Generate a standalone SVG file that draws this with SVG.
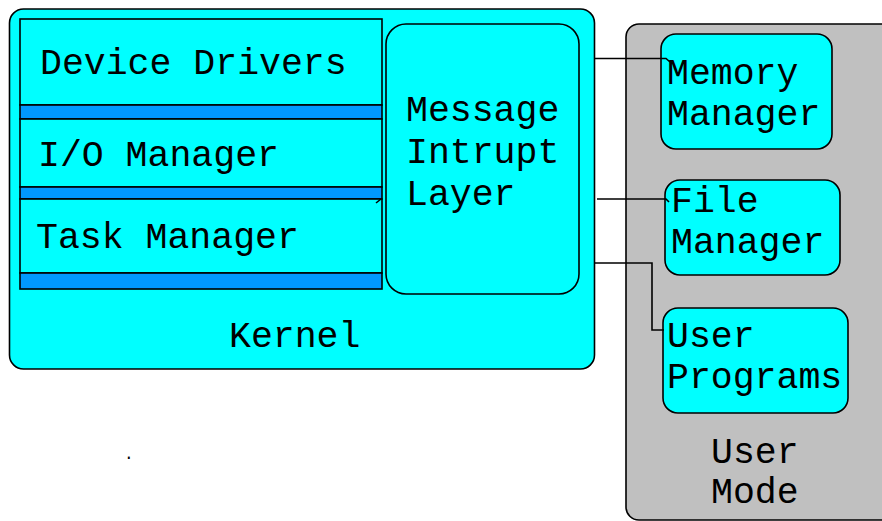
<svg xmlns="http://www.w3.org/2000/svg" width="882" height="521" viewBox="0 0 882 521">
<style>
text{font-family:"Courier New","Liberation Mono",monospace;font-size:36.5px;fill:#000}
.cy{fill:#00ffff;stroke:#000;stroke-width:1.6}
.bar{fill:#0099ff;stroke:#000;stroke-width:1.6}
.gr{fill:#c0c0c0;stroke:#000;stroke-width:1.6}
.con{fill:none;stroke:#000;stroke-width:1.6}
</style>
<rect width="882" height="521" fill="#fff"/>
<g id="kernel">
<rect class="cy" x="9.5" y="9" width="585" height="360" rx="14"/>
<text x="229" y="347">Kernel</text>
</g>
<g id="device-drivers">
<rect class="cy" x="20" y="19" width="362" height="86"/>
<text x="40" y="74">Device Drivers</text>
</g>
<rect id="bar1" class="bar" x="20" y="105" width="362" height="14"/>
<g id="io-manager">
<rect class="cy" x="20" y="119" width="362" height="68"/>
<text x="38" y="166">I/O Manager</text>
</g>
<rect id="bar2" class="bar" x="20" y="187" width="362" height="12"/>
<g id="task-manager">
<rect class="cy" x="20" y="199" width="362" height="74"/>
<text x="36" y="248">Task Manager</text>
</g>
<rect id="bar3" class="bar" x="20" y="273" width="362" height="16"/>
<g id="message-layer">
<rect class="cy" x="386" y="24" width="193" height="270" rx="20"/>
<text x="406" y="121">Message</text>
<text x="406" y="163">Intrupt</text>
<text x="406" y="205">Layer</text>
</g>
<g id="user-mode">
<rect class="gr" x="626" y="24" width="280" height="496" rx="13"/>
<text x="711" y="463" fill="#222">User</text>
<text x="711" y="503" fill="#222">Mode</text>
</g>
<g id="memory-manager">
<rect class="cy" x="661" y="34" width="171" height="115" rx="15"/>
<text x="667" y="84">Memory</text>
<text x="667" y="125">Manager</text>
</g>
<g id="file-manager">
<rect class="cy" x="665" y="180" width="175" height="95" rx="15"/>
<text x="671" y="212">File</text>
<text x="671" y="253">Manager</text>
</g>
<g id="user-programs">
<rect class="cy" x="663" y="308" width="185" height="105" rx="15"/>
<text x="667" y="347">User</text>
<text x="667" y="388">Programs</text>
</g>
<g id="connectors">
<polyline class="con" points="595,58.5 666,58.5 670,62"/>
<polyline class="con" points="597,199 666,199 669,202"/>
<polyline class="con" points="595,263 652,263 652,330 664,330"/>
<path class="con" d="M376,203 L381,199"/>
</g>
<text x="124" y="459" style="font-size:16px">.</text>
</svg>
